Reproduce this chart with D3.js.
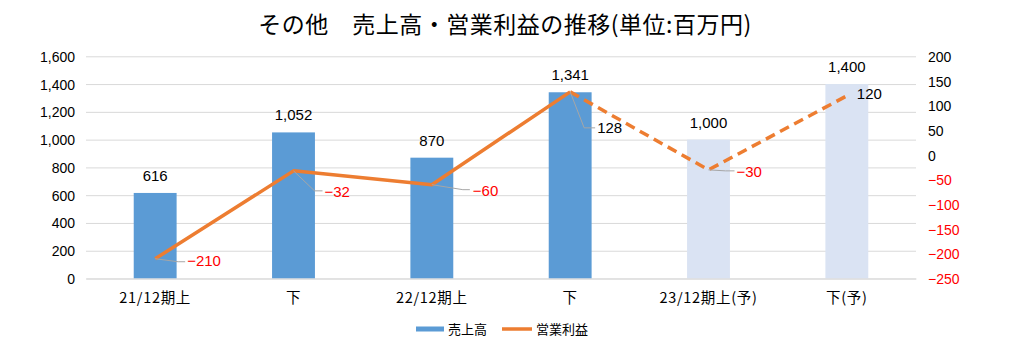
<!DOCTYPE html>
<html><head><meta charset="utf-8">
<script src="https://cdn.jsdelivr.net/npm/d3@7/dist/d3.min.js"></script>
<style>
html,body{margin:0;padding:0;background:#fff;}
svg{display:block;}
</style></head>
<body>
<svg id="chart" width="1036" height="351"></svg>
<script>
// ---- data ----
const categories = ["21/12期上", "下", "22/12期上", "下", "23/12期上(予)", "下(予)"];
const sales = [616, 1052, 870, 1341, 1000, 1400];
const profit = [-210, -32, -60, 128, -30, 120];
const isForecast = [false, false, false, false, true, true];
const leftTicks = [0, 200, 400, 600, 800, 1000, 1200, 1400, 1600];
const rightTicks = [-250, -200, -150, -100, -50, 0, 50, 100, 150, 200];
const title = "その他　売上高・営業利益の推移(単位:百万円)";
const legendNames = ["売上高", "営業利益"];

// ---- layout (label offsets relative to point) ----
const labelLayout = [
  {dx: 32, dy: 2, leader: [[23, 3], [30, 3]]},
  {dx: 31, dy: 21, leader: [[21, 20], [29, 20]]},
  {dx: 41, dy: 6, leader: [[31, 5], [38, 5]]},
  {dx: 27, dy: 36, leader: [[14, 36], [25, 36]]},
  {dx: 28, dy: 2, leader: [[17, 1], [26, 1]]},
  {dx: 10, dy: -2, leader: null}
];

const svg = d3.select("#chart");
const numFont = "'Liberation Sans', Arial, sans-serif";
const jpFont = "'Noto Sans CJK JP', sans-serif";
const fmt = d3.format(",");
const sgn = v => v < 0 ? "−" + fmt(-v) : fmt(v);

const x = d3.scaleBand().domain(d3.range(categories.length)).range([86, 916]).paddingInner(0.69).paddingOuter(0.345);
const yL = d3.scaleLinear().domain([0, 1600]).range([278.5, 56.3]);
const yR = d3.scaleLinear().domain([-250, 200]).range([278.5, 56.3]);

// gridlines
svg.append("g").selectAll("line").data(leftTicks).join("line")
  .attr("x1", 86).attr("x2", 916)
  .attr("y1", d => yL(d) + 0.5).attr("y2", d => yL(d) + 0.5)
  .attr("stroke", "#D9D9D9").attr("stroke-width", 1);

// left axis
const axL = d3.axisLeft(yL).tickValues(leftTicks).tickFormat(fmt).tickSize(0).tickPadding(0);
const gL = svg.append("g").attr("transform", "translate(75,0)").call(axL);
gL.select(".domain").remove();
gL.selectAll("text").attr("font-family", numFont).attr("font-size", 14).attr("fill", "#000").attr("dy", "0.36em");

// right axis
const axR = d3.axisRight(yR).tickValues(rightTicks).tickFormat(sgn).tickSize(0).tickPadding(0);
const gR = svg.append("g").attr("transform", "translate(928,0)").call(axR);
gR.select(".domain").remove();
gR.selectAll("text").attr("font-family", numFont).attr("font-size", 14)
  .attr("fill", d => d < 0 ? "#FF0000" : "#000").attr("dy", "0.36em");

// bars
svg.append("g").selectAll("rect").data(sales).join("rect")
  .attr("x", (d, i) => x(i)).attr("width", x.bandwidth())
  .attr("y", d => yL(d)).attr("height", d => yL(0) - yL(d))
  .attr("fill", (d, i) => isForecast[i] ? "#DAE3F3" : "#5B9BD5");

// bottom axis
const axB = d3.axisBottom(x).tickFormat(i => categories[i]).tickSize(0).tickPadding(0);
const gB = svg.append("g").attr("transform", "translate(0,278.5)").call(axB);
gB.select(".domain").attr("stroke", "#D9D9D9");
gB.selectAll("text").attr("font-family", jpFont).attr("font-size", 14.5).attr("letter-spacing", 0.7)
  .attr("fill", "#000").attr("dy", "0").attr("y", 24);

// bar labels
svg.append("g").selectAll("text").data(sales).join("text")
  .attr("x", (d, i) => x(i) + x.bandwidth() / 2).attr("y", d => yL(d) - 12)
  .attr("text-anchor", "middle").attr("font-family", numFont).attr("font-size", 15).attr("fill", "#000")
  .text(fmt);

// line
const cx = i => x(i) + x.bandwidth() / 2;
const pts = profit.map((v, i) => [cx(i), yR(v)]);
const line = d3.line();
const solidIdx = d3.range(categories.length).filter(i => !isForecast[i]);
const lastActual = solidIdx[solidIdx.length - 1];
svg.append("path").attr("d", line(pts.slice(0, lastActual + 1)))
  .attr("fill", "none").attr("stroke", "#ED7D31").attr("stroke-width", 3.5).attr("stroke-linejoin", "round");
svg.append("path").attr("d", line(pts.slice(lastActual)))
  .attr("fill", "none").attr("stroke", "#ED7D31").attr("stroke-width", 3.5)
  .attr("stroke-dasharray", "10,6").attr("stroke-linejoin", "round");

// leader lines & line labels
const gLab = svg.append("g");
profit.forEach((v, i) => {
  const [px, py] = pts[i];
  const lay = labelLayout[i];
  if (lay.leader) {
    const lp = [[px, py]].concat(lay.leader.map(([a, b]) => [px + a, py + b]));
    gLab.append("path").attr("d", line(lp)).attr("fill", "none").attr("stroke", "#A6A6A6").attr("stroke-width", 1);
  }
  gLab.append("text").attr("x", px + lay.dx).attr("y", py + lay.dy).attr("dy", "0.36em")
    .attr("font-family", numFont).attr("font-size", 15)
    .attr("fill", v < 0 ? "#FF0000" : "#000").text(sgn(v));
});

// title
svg.append("text").attr("x", 505).attr("y", 33).attr("text-anchor", "middle")
  .attr("font-family", jpFont).attr("font-size", 23).attr("letter-spacing", 0.5)
  .attr("fill", "#000").text(title);

// legend
const lg = svg.append("g");
lg.append("rect").attr("x", 416).attr("y", 326.5).attr("width", 28).attr("height", 5).attr("fill", "#5B9BD5");
lg.append("text").attr("x", 448).attr("y", 329).attr("dy", "0.36em").attr("font-family", jpFont).attr("font-size", 13).text(legendNames[0]);
lg.append("line").attr("x1", 502).attr("x2", 532).attr("y1", 329).attr("y2", 329).attr("stroke", "#ED7D31").attr("stroke-width", 3.5);
lg.append("text").attr("x", 536).attr("y", 329).attr("dy", "0.36em").attr("font-family", jpFont).attr("font-size", 13).text(legendNames[1]);
</script>
</body></html>
